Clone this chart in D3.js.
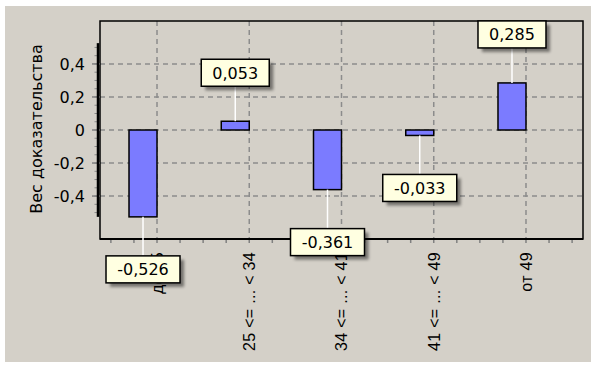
<!DOCTYPE html>
<html>
<head>
<meta charset="utf-8">
<script src="https://cdn.jsdelivr.net/npm/d3@7"></script>
<style>
  html, body { margin: 0; padding: 0; background: #ffffff; }
  svg { display: block; }
  text { font-family: "DejaVu Sans", sans-serif; fill: #000; }
  text.cat { font-family: "Liberation Sans", Arial, sans-serif; letter-spacing: 0.3px; }
</style>
</head>
<body>
<svg id="chart" width="594" height="365"></svg>
<script>
// Weight of evidence per age group
const categories = ["до 25", "25 <= ... < 34", "34 <= ... < 41", "41 <= ... < 49", "от 49"];
const woeValues = [-0.526, 0.053, -0.361, -0.033, 0.285];
const yTickValues = [-0.4, -0.2, 0, 0.2, 0.4];
const yTitle = "Вес доказательства";
const yDomain = [-0.66, 0.66];

const locale = d3.formatLocale({ decimal: ",", thousands: " ", grouping: [3], currency: ["", ""], minus: "-" });
const fmtTick = v => v === 0 ? "0" : locale.format(".1f")(v);
const fmtValue = locale.format(".3f");

const svg = d3.select("#chart");
const plot = { left: 100, right: 583, top: 21, bottom: 239 };

// window panel
svg.append("rect").attr("x", 5).attr("y", 6).attr("width", 586).attr("height", 356).attr("fill", "#d4d0c8");

const x = d3.scalePoint().domain(categories).range([plot.left, plot.right]).padding(0.618);
const y = d3.scaleLinear().domain(yDomain).range([plot.bottom, plot.top]);
const step = x.step();
const barW = 28;

// dashed grid
const grid = svg.append("g").attr("stroke", "#8c8c8c").attr("stroke-width", 1.5).attr("stroke-dasharray", "5,4");
grid.selectAll("line.h").data(yTickValues).join("line")
  .attr("x1", plot.left).attr("x2", plot.right)
  .attr("y1", d => y(d)).attr("y2", d => y(d));
grid.selectAll("line.v").data(categories).join("line")
  .attr("x1", d => x(d)).attr("x2", d => x(d))
  .attr("y1", plot.top).attr("y2", plot.bottom);

// frame
svg.append("rect").attr("x", plot.left).attr("y", plot.top)
  .attr("width", plot.right - plot.left).attr("height", plot.bottom - plot.top)
  .attr("fill", "none").attr("stroke", "#000").attr("stroke-width", 1.5);
svg.append("line").attr("x1", plot.left).attr("x2", plot.right)
  .attr("y1", plot.bottom).attr("y2", plot.bottom).attr("stroke", "#000").attr("stroke-width", 2);

// x ticks: quarter-step minor ticks below the frame
const xTicks = d3.range(-2, (categories.length - 1) * 4 + 3).map(k => x(categories[0]) + k * step / 4);
svg.append("g").selectAll("line").data(xTicks).join("line")
  .attr("x1", d => d).attr("x2", d => d)
  .attr("y1", plot.bottom + 1).attr("y2", plot.bottom + 4)
  .attr("stroke", "#808080").attr("stroke-width", 1.5);

// y axis: thick bar spanning the largest magnitude, with ticks
const maxAbs = d3.max(woeValues, v => Math.abs(v));
const yAxis = svg.append("g");
yAxis.selectAll("line.minor").data(d3.range(-10, 11).map(k => k * 0.05).filter(v => Math.abs(v) <= maxAbs)).join("line")
  .attr("x1", 94.5).attr("x2", 97).attr("y1", d => y(d)).attr("y2", d => y(d))
  .attr("stroke", "#8a8a8a").attr("stroke-width", 1);
yAxis.selectAll("line.major").data(yTickValues).join("line")
  .attr("x1", 92).attr("x2", 100).attr("y1", d => y(d)).attr("y2", d => y(d))
  .attr("stroke", "#808080").attr("stroke-width", 1.5);
yAxis.append("line").attr("x1", 98).attr("x2", 98)
  .attr("y1", y(maxAbs)).attr("y2", y(-maxAbs))
  .attr("stroke", "#000").attr("stroke-width", 2.5);
yAxis.selectAll("text").data(yTickValues).join("text")
  .attr("x", 85).attr("y", d => y(d)).attr("dy", "0.36em")
  .attr("text-anchor", "end").attr("font-size", 16).text(fmtTick);

// y title
svg.append("text").attr("transform", `translate(42,${(38 + 220) / 2}) rotate(-90)`)
  .attr("text-anchor", "middle").attr("font-size", 16).text(yTitle);

// bars
svg.append("g").selectAll("rect").data(categories).join("rect")
  .attr("x", d => x(d) - barW)
  .attr("width", barW)
  .attr("y", (d, i) => y(Math.max(0, woeValues[i])))
  .attr("height", (d, i) => Math.abs(y(woeValues[i]) - y(0)))
  .attr("fill", "#7b7bff").attr("stroke", "#000").attr("stroke-width", 1.5);

// x category labels
svg.append("g").selectAll("text").data(categories).join("text")
  .attr("class", "cat")
  .attr("transform", d => `translate(${x(d)},252) rotate(-90)`)
  .attr("text-anchor", "end").attr("dy", "0.36em").attr("font-size", 16)
  .text(d => d);

// value callouts
const defs = svg.append("defs");
defs.append("filter").attr("id", "shadow").attr("x", "-20%").attr("y", "-40%").attr("width", "140%").attr("height", "180%")
  .append("feGaussianBlur").attr("stdDeviation", 1.8);

const boxH = 27;
const callouts = svg.append("g");
categories.forEach((c, i) => {
  const v = woeValues[i];
  const cx = x(c) - barW / 2;
  const barEnd = y(v);
  const label = fmtValue(v);
  const g = callouts.append("g");
  const t = g.append("text").attr("font-size", 16).attr("text-anchor", "middle").text(label);
  const tw = t.node().getComputedTextLength();
  const bw = Math.round(tw + 22);
  const top = v >= 0 ? barEnd - 35 - boxH : barEnd + 39;
  const lineY = v >= 0 ? top + boxH : top;
  g.insert("line", "text").attr("x1", cx).attr("x2", cx).attr("y1", barEnd).attr("y2", lineY)
    .attr("stroke", "#ffffff").attr("stroke-width", 1.5);
  g.insert("rect", "text").attr("x", cx - bw / 2 + 4).attr("y", top + 4).attr("width", bw).attr("height", boxH)
    .attr("fill", "#000").attr("opacity", 0.45).attr("filter", "url(#shadow)");
  g.insert("rect", "text").attr("x", cx - bw / 2).attr("y", top).attr("width", bw).attr("height", boxH)
    .attr("fill", "#ffffe1").attr("stroke", "#000").attr("stroke-width", 1.5);
  t.attr("x", cx).attr("y", top + boxH / 2).attr("dy", "0.36em");
});
</script>
</body>
</html>
